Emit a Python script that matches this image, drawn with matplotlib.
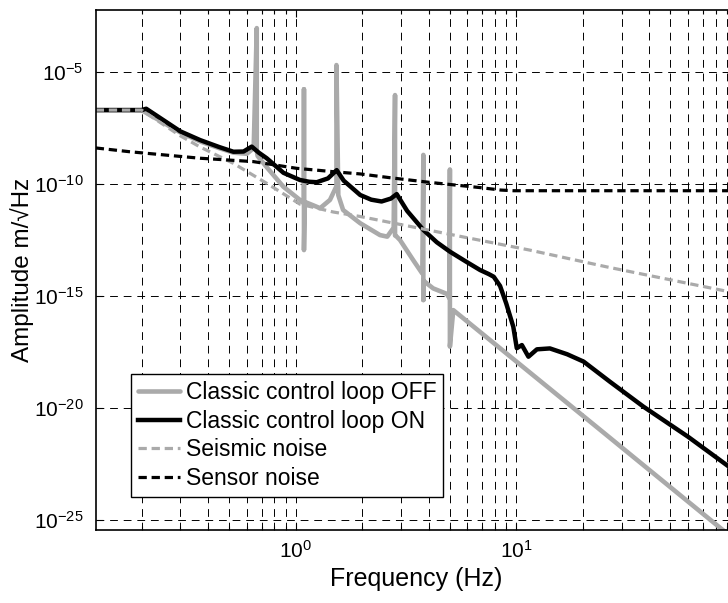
import numpy as np
import matplotlib
matplotlib.use("Agg")
import matplotlib.pyplot as plt
from matplotlib.ticker import FixedLocator, LogLocator, NullLocator, FuncFormatter, NullFormatter

plt.rcParams['font.family'] = ['Liberation Sans', 'DejaVu Sans']
plt.rcParams['mathtext.default'] = 'regular'

# Values (frequency in Hz, amplitude as log10 of m/sqrt(Hz))
f_off = [0.124, 0.2, 0.3, 0.369, 0.45, 0.522, 0.6, 0.645, 0.666, 0.666, 0.672, 0.739, 0.879,
         1.045, 1.09, 1.09, 1.09, 1.1, 1.2, 1.29, 1.43, 1.53, 1.53, 1.56, 1.64, 1.96, 2.41, 2.6,
         2.78, 2.82, 2.82, 2.87, 2.97, 3.41, 3.75, 3.79, 3.79, 3.79, 3.83, 4.2, 4.83, 4.98, 5.0,
         5.0, 5.18, 23.9, 100]
a_off = [-6.7, -6.7, -7.7, -8.1, -8.4, -8.6, -8.65, -8.4, -3.04, -8.5, -8.75, -9.25, -10.12,
         -10.71, -10.86, -5.77, -12.95, -10.8, -10.95, -11.08, -10.71, -10.1, -4.69, -10.5, -11.16,
         -11.75, -12.28, -12.35, -11.95, -6.03, -12.3, -12.35, -12.5, -13.4, -14.0, -8.7, -15.18,
         -14.3, -14.35, -14.66, -14.9, -15.1, -9.35, -17.26, -15.63, -20.96, -25.96]

f_on = [0.124, 0.2, 0.21, 0.3, 0.369, 0.45, 0.522, 0.58, 0.632, 0.68, 0.739, 0.88, 1.045, 1.15,
        1.245, 1.4, 1.534, 1.65, 1.96, 2.2, 2.45, 2.7, 2.87, 3.2, 3.79, 4.36, 5.0, 6.0, 6.85, 7.5,
        7.9, 8.44, 9.0, 9.69, 10.05, 10.6, 11.35, 12.4, 14.2, 17.0, 20.2, 26.6, 37.7, 60.0, 100]
a_on = [-6.7, -6.7, -6.64, -7.65, -8.04, -8.35, -8.56, -8.55, -8.33, -8.6, -8.85, -9.5, -9.82,
        -9.9, -9.92, -9.75, -9.38, -9.85, -10.49, -10.7, -10.78, -10.65, -10.45, -11.2, -12.05,
        -12.6, -13.02, -13.5, -13.84, -14.02, -14.14, -14.55, -15.33, -16.37, -17.33, -17.19,
        -17.71, -17.38, -17.34, -17.6, -17.93, -18.83, -19.94, -21.28, -22.88]

f_seis = [0.124, 0.2, 0.3, 0.369, 0.522, 0.739, 1.045, 1.48, 1.96, 4.36, 11.5, 25.7, 100]
a_seis = [-6.7, -6.7, -7.85, -8.35, -9.08, -9.97, -10.9, -11.25, -11.45, -12.13, -12.95, -13.7, -14.88]

f_sens = [0.124, 0.177, 0.369, 0.642, 1.01, 1.48, 1.96, 2.68, 4.07, 6.85, 8.5, 9.7, 100]
a_sens = [-8.39, -8.56, -8.85, -9.0, -9.3, -9.45, -9.55, -9.72, -9.93, -10.16, -10.27, -10.3, -10.3]

x_major = [1, 10]
y_major = [1e-25, 1e-20, 1e-15, 1e-10, 1e-5]
labels = ['Classic control loop OFF', 'Classic control loop ON', 'Seismic noise', 'Sensor noise']
grey = '#aaaaaa'

fig = plt.figure(figsize=(7.28, 6.03), dpi=100)
ax = fig.add_axes([96 / 728, 1 - 530 / 603, (736.9 - 96) / 728, 520 / 603])

ax.loglog(f_off, 10.0 ** np.array(a_off), color=grey, lw=3.3, label=labels[0],
          solid_joinstyle='round', solid_capstyle='round')
ax.loglog(f_on, 10.0 ** np.array(a_on), color='black', lw=3.2, label=labels[1],
          solid_joinstyle='round')
ax.loglog(f_seis, 10.0 ** np.array(a_seis), color=grey, lw=2.3, ls=(0, (2.6, 1.5)), label=labels[2])
ax.loglog(f_sens, 10.0 ** np.array(a_sens), color='black', lw=2.3, ls=(0, (2.6, 1.5)), label=labels[3])

ax.set_xlim(10 ** -0.9053, 100)
ax.set_ylim(10 ** -25.446, 10 ** -2.232)

ax.xaxis.set_major_locator(FixedLocator(x_major))
ax.xaxis.set_minor_locator(LogLocator(base=10, subs=np.arange(2, 10), numticks=20))
ax.xaxis.set_minor_formatter(NullFormatter())
ax.yaxis.set_major_locator(FixedLocator(y_major))
ax.yaxis.set_minor_locator(NullLocator())
fmt = FuncFormatter(lambda v, p: r'$\mathregular{10^{%d}}$' % round(np.log10(v)))
ax.xaxis.set_major_formatter(fmt)
ax.yaxis.set_major_formatter(fmt)

ax.grid(True, which='major', axis='both', color='black', lw=0.7, ls=(0, (8, 6)))
ax.grid(True, which='minor', axis='x', color='black', lw=0.7, ls=(0, (8, 6)))
ax.set_axisbelow(True)

ax.tick_params(which='both', direction='in', top=True, right=True, labelsize=15, width=0.8)
ax.tick_params(which='major', length=5, pad=7)
ax.tick_params(axis='y', which='major', pad=9)
ax.tick_params(which='minor', length=3)
for s in ax.spines.values():
    s.set_linewidth(1.2)

ax.set_xlabel('Frequency (Hz)', fontsize=18, labelpad=4)
ax.set_ylabel('Amplitude m/\u221aHz', fontsize=17.5, labelpad=0)

leg = ax.legend(loc='lower left', bbox_to_anchor=(0.0546, 0.0635), borderaxespad=0,
                fontsize=16.5, fancybox=False, framealpha=1, edgecolor='black',
                handlelength=1.83, handletextpad=0.25, borderpad=0.3, labelspacing=0.25)
leg.get_frame().set_linewidth(1.0)

fig.savefig('out.png', dpi=100)
